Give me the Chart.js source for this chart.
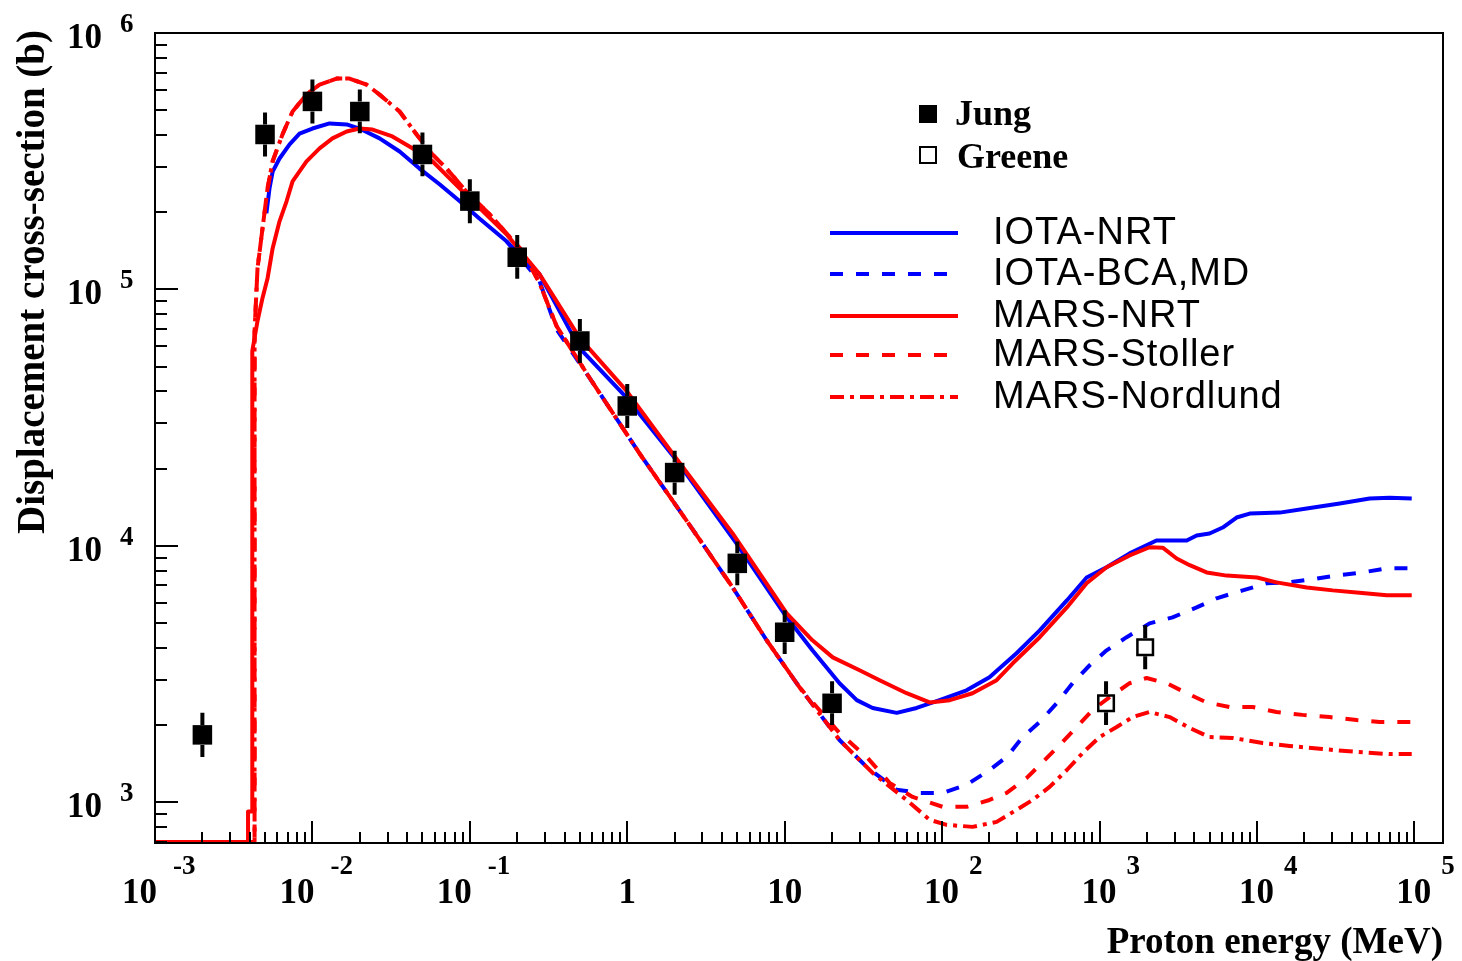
<!DOCTYPE html>
<html>
<head>
<meta charset="utf-8">
<title>Displacement cross-section vs proton energy</title>
<script src="https://cdn.jsdelivr.net/npm/chart.js@4.4.1/dist/chart.umd.min.js"></script>
<style>
  html, body { margin: 0; padding: 0; background: #fff; }
  #wrap { width: 1462px; height: 961px; }
</style>
</head>
<body>
<div id="wrap"><canvas id="sigma" width="1462" height="961"></canvas></div>
<script>
// Jung measurements (filled squares): energy (MeV), cross-section (b), error limits
const jungE    = [0.002, 0.005, 0.01, 0.02, 0.05, 0.1, 0.2, 0.5, 1, 2, 5, 10, 20];
const jungS    = [1830, 4.02e5, 5.41e5, 4.94e5, 3.36e5, 2.21e5, 1.335e5, 6.29e4, 3.51e4, 1.93e4, 8.54e3, 4.6e3, 2.43e3];
const jungLow  = [1500, 3.30e5, 4.44e5, 4.06e5, 2.76e5, 1.81e5, 1.10e5, 5.16e4, 2.88e4, 1.58e4, 7.01e3, 3.78e3, 2.0e3];
const jungHigh = [2230, 4.90e5, 6.59e5, 6.02e5, 4.09e5, 2.69e5, 1.63e5, 7.66e4, 4.28e4, 2.35e4, 1.04e4, 5.6e3, 2.96e3];

// Greene measurements (open squares)
const greeneE    = [1100, 1950];
const greeneS    = [2430, 4020];
const greeneLow  = [2000, 3300];
const greeneHigh = [2960, 4900];

// IOTA-NRT
const iotaNrtE = [5.1e-3, 5.34e-3, 5.59e-3, 6.18e-3, 7.16e-3, 8.28e-3, 0.01, 0.01285, 0.0165, 0.0199, 0.0267, 0.0358,
  0.0479, 0.0642, 0.086, 0.115, 0.171, 0.277, 0.498, 0.99, 2.06, 4.95, 10.3, 15.0, 22.3, 28.7, 36.2, 51.5, 68.9, 96.3,
  143, 200, 297, 417, 620, 828, 1109, 1553, 2300, 3580, 4140, 5000, 6060, 7420, 8990, 1.394e4, 2.07e4, 3.36e4, 5.2e4,
  6.97e4, 9.62e4];
const iotaNrtS = [1.98e5, 2.48e5, 2.88e5, 3.24e5, 3.68e5, 4.05e5, 4.24e5, 4.44e5, 4.40e5, 4.24e5, 3.88e5, 3.45e5,
  2.96e5, 2.57e5, 2.21e5, 1.89e5, 1.54e5, 1.147e5, 5.9e4, 3.78e4, 2.15e4, 1.02e4, 5.26e3, 3.91e3, 2.91e3, 2.50e3,
  2.33e3, 2.23e3, 2.33e3, 2.50e3, 2.73e3, 3.07e3, 3.81e3, 4.68e3, 6.12e3, 7.52e3, 8.25e3, 9.34e3, 1.048e4, 1.048e4,
  1.097e4, 1.117e4, 1.178e4, 1.289e4, 1.335e4, 1.347e4, 1.397e4, 1.461e4, 1.53e4, 1.54e4, 1.53e4];

// IOTA-BCA,MD
const iotaBcaE = [0.171, 0.277, 0.355, 0.576, 1.197, 2.38, 4.67, 7.68, 12.4, 22.3, 33.2, 51.5, 72.0, 100.7, 143, 200,
  257, 325, 417, 534, 674, 866, 1109, 1487, 2080, 2910, 4140, 5540, 8120, 1.152e4, 1.613e4, 2.394e4, 3.21e4, 4.69e4,
  6.67e4, 9.62e4];
const iotaBcaS = [1.54e5, 1.077e5, 7.0e4, 4.52e4, 2.29e4, 1.254e4, 6.88e3, 4.28e3, 2.81e3, 1.747e3, 1.372e3, 1.117e3,
  1.087e3, 1.087e3, 1.168e3, 1.335e3, 1.50e3, 1.795e3, 2.054e3, 2.43e3, 2.91e3, 3.42e3, 3.91e3, 4.40e3, 4.98e3, 5.26e3,
  5.75e3, 6.24e3, 6.70e3, 7.14e3, 7.21e3, 7.45e3, 7.65e3, 7.87e3, 8.17e3, 8.17e3];

// MARS-NRT
const marsNrtE = [1e-3, 3.9e-3, 3.9e-3, 4.15e-3, 4.15e-3, 4.48e-3, 4.82e-3, 5.19e-3, 5.59e-3, 6.18e-3, 6.85e-3, 7.48e-3,
  9.17e-3, 0.0111, 0.0134, 0.0165, 0.0199, 0.0241, 0.0322, 0.0432, 0.0579, 0.0777, 0.104, 0.171, 0.277, 0.498, 0.99,
  1.94, 4.67, 10.3, 15.0, 20.2, 29.9, 40.1, 59.5, 83.4, 112, 156, 222, 281, 417, 620, 828, 1109, 1553, 2080, 2520, 3090,
  3740, 4790, 6420, 1.0e4, 1.33e4, 2.07e4, 3.03e4, 4.30e4, 6.67e4, 9.62e4];
const marsNrtS = [700, 700, 920, 920, 5.75e4, 7.53e4, 9.26e4, 1.106e5, 1.448e5, 1.843e5, 2.206e5, 2.639e5, 3.157e5,
  3.55e5, 3.88e5, 4.13e5, 4.24e5, 4.20e5, 3.95e5, 3.55e5, 3.16e5, 2.64e5, 2.21e5, 1.64e5, 1.147e5, 6.47e4, 4.02e4,
  2.29e4, 1.117e4, 5.45e3, 4.28e3, 3.67e3, 3.27e3, 2.99e3, 2.66e3, 2.45e3, 2.50e3, 2.66e3, 2.99e3, 3.48e3, 4.40e3,
  5.75e3, 7.14e3, 8.25e3, 9.17e3, 9.87e3, 9.83e3, 8.92e3, 8.40e3, 7.87e3, 7.65e3, 7.52e3, 7.20e3, 6.88e3, 6.70e3,
  6.58e3, 6.41e3, 6.41e3];

// MARS-Stoller
const marsStollerE = [1e-3, 4.29e-3, 4.29e-3, 4.48e-3, 4.82e-3, 5.19e-3, 5.59e-3, 6.45e-3, 7.48e-3, 9.17e-3, 0.0111,
  0.01423, 0.0172, 0.0221, 0.0267, 0.0358, 0.0459, 0.0579, 0.0711, 0.095, 0.1334, 0.216, 0.277, 0.355, 0.576, 1.197,
  2.38, 4.67, 7.68, 12.4, 22.3, 33.2, 46.4, 65.0, 100.7, 143, 200, 257, 345, 436, 558, 716, 906, 1159, 1553, 1990, 2670,
  3580, 4790, 6700, 9400, 1.33e4, 1.95e4, 2.9e4, 4.30e4, 6.03e4, 9.62e4];
const marsStollerS = [700, 700, 6.88e4, 1.21e5, 1.73e5, 2.48e5, 3.16e5, 4.02e5, 4.94e5, 5.75e5, 6.29e5, 6.64e5, 6.64e5,
  6.29e5, 5.75e5, 4.94e5, 4.02e5, 3.36e5, 2.96e5, 2.41e5, 1.963e5, 1.41e5, 1.058e5, 7.21e4, 4.52e4, 2.29e4, 1.254e4,
  6.88e3, 4.28e3, 2.81e3, 1.86e3, 1.50e3, 1.189e3, 1.048e3, 959, 959, 1.02e3, 1.087e3, 1.243e3, 1.435e3, 1.671e3,
  1.963e3, 2.29e3, 2.57e3, 2.91e3, 3.05e3, 2.91e3, 2.66e3, 2.45e3, 2.35e3, 2.35e3, 2.247e3, 2.19e3, 2.147e3, 2.09e3,
  2.054e3, 2.054e3];

// MARS-Nordlund
const marsNordlundE = [1e-3, 4.29e-3, 4.29e-3, 4.48e-3, 4.82e-3, 5.19e-3, 5.59e-3, 6.45e-3, 7.48e-3, 9.17e-3, 0.0111,
  0.01423, 0.0172, 0.0221, 0.0267, 0.0358, 0.0459, 0.0579, 0.0711, 0.095, 0.1334, 0.216, 0.277, 0.355, 0.576, 1.197,
  2.38, 4.67, 7.68, 12.4, 22.3, 36.2, 59.5, 83.4, 106.8, 156, 222, 297, 376, 482, 620, 781, 1000, 1285, 1623, 2080,
  2790, 3740, 5000, 7000, 1.087e4, 1.613e4, 2.61e4, 4.30e4, 6.97e4, 9.62e4];
const marsNordlundS = [700, 700, 6.88e4, 1.21e5, 1.73e5, 2.48e5, 3.16e5, 4.02e5, 4.94e5, 5.75e5, 6.29e5, 6.64e5, 6.64e5,
  6.29e5, 5.75e5, 4.94e5, 4.02e5, 3.36e5, 2.96e5, 2.41e5, 1.963e5, 1.41e5, 1.058e5, 7.21e4, 4.52e4, 2.29e4, 1.254e4,
  6.88e3, 4.28e3, 2.81e3, 1.747e3, 1.30e3, 1.02e3, 853, 816, 801, 838, 933, 1.02e3, 1.147e3, 1.335e3, 1.555e3,
  1.795e3, 1.963e3, 2.147e3, 2.247e3, 2.147e3, 1.946e3, 1.795e3, 1.78e3, 1.70e3, 1.656e3, 1.612e3, 1.57e3, 1.54e3,
  1.54e3];

// decade labels on the axes (powers of ten)
const xTickExps = [-3, -2, -1, 0, 1, 2, 3, 4, 5];
const yTickExps = [3, 4, 5, 6];

const BLUE = '#0000ff';
const RED = '#ff0000';
const SERIF = '"Liberation Serif", "Times New Roman", serif';
const SANS = '"Liberation Sans", Arial, Helvetica, sans-serif';

const pts = (E, S) => E.map((e, i) => ({ x: e, y: S[i] }));

function line(label, E, S, color, dash) {
  return {
    label: label,
    data: pts(E, S),
    showLine: true,
    borderColor: color,
    borderWidth: 4,
    borderDash: dash,
    borderCapStyle: 'butt',
    borderJoinStyle: 'round',
    pointRadius: 0,
    fill: false,
    tension: 0
  };
}

const datasets = [
  { label: 'Jung', data: pts(jungE, jungS), pointStyle: 'rect', pointRadius: 13.8,
    pointBackgroundColor: '#000', pointBorderWidth: 0 },
  { label: 'Greene', data: pts(greeneE, greeneS), pointStyle: 'rect', pointRadius: 11,
    pointBackgroundColor: 'rgba(0,0,0,0)', pointBorderColor: '#000', pointBorderWidth: 2.5 },
  line('MARS-NRT', marsNrtE, marsNrtS, RED, []),
  line('MARS-Stoller', marsStollerE, marsStollerS, RED, [13, 13]),
  line('MARS-Nordlund', marsNordlundE, marsNordlundS, RED, [14, 6, 4, 6]),
  line('IOTA-NRT', iotaNrtE, iotaNrtS, BLUE, []),
  line('IOTA-BCA,MD', iotaBcaE, iotaBcaS, BLUE, [13, 13])
];

const legendLines = ['IOTA-NRT', 'IOTA-BCA,MD', 'MARS-NRT', 'MARS-Stoller', 'MARS-Nordlund'];
const legendRows = [233, 274, 316, 355, 397];

// frame, inward ticks, power-of-ten labels, error bars, titles and legend
const decorations = {
  id: 'decorations',
  afterDatasetsDraw(chart) {
    const { ctx, chartArea: a } = chart;
    const xs = chart.scales.x, ys = chart.scales.y;
    ctx.save();
    ctx.setLineDash([]);
    ctx.strokeStyle = '#000';
    ctx.fillStyle = '#000';

    // vertical error bars, kept off the marker itself
    [[0, jungLow, jungHigh, 10], [1, greeneLow, greeneHigh, 9]].forEach(([idx, low, high, half]) => {
      ctx.lineWidth = 4;
      chart.getDatasetMeta(idx).data.forEach((p, i) => {
        ctx.beginPath();
        ctx.moveTo(p.x, ys.getPixelForValue(high[i]));
        ctx.lineTo(p.x, p.y - half);
        ctx.moveTo(p.x, p.y + half);
        ctx.lineTo(p.x, ys.getPixelForValue(low[i]));
        ctx.stroke();
      });
    });

    // frame
    ctx.lineWidth = 2;
    ctx.strokeRect(a.left, a.top, a.right - a.left, a.bottom - a.top);

    // ticks on the bottom and left axes, pointing into the plot
    ctx.beginPath();
    for (let n = -3; n <= 5; n++) {
      for (let m = 1; m <= 9; m++) {
        const v = m * Math.pow(10, n);
        if (v < xs.min || v > xs.max) continue;
        const px = Math.round(xs.getPixelForValue(v));
        ctx.moveTo(px, a.bottom);
        ctx.lineTo(px, a.bottom - (m === 1 ? 22 : 11));
      }
    }
    for (let n = 2; n <= 6; n++) {
      for (let m = 1; m <= 9; m++) {
        const v = m * Math.pow(10, n);
        if (v < ys.min || v > ys.max) continue;
        const py = Math.round(ys.getPixelForValue(v));
        ctx.moveTo(a.left, py);
        ctx.lineTo(a.left + (m === 1 ? 23 : 12), py);
      }
    }
    ctx.stroke();

    const baseFont = 'bold 35px ' + SERIF;
    const expFont = 'bold 27px ' + SERIF;
    ctx.textBaseline = 'alphabetic';

    // x labels
    xTickExps.forEach(e => {
      const px = xs.getPixelForValue(Math.pow(10, e));
      ctx.font = baseFont;
      if (e === 0 || e === 1) {
        ctx.textAlign = 'center';
        ctx.fillText(e === 0 ? '1' : '10', px, a.bottom + 60);
        return;
      }
      ctx.textAlign = 'right';
      ctx.fillText('10', px + (e < 0 ? 2 : 17), a.bottom + 60);
      ctx.font = expFont;
      ctx.textAlign = 'left';
      ctx.fillText(String(e), px + (e < 0 ? 18 : 27), a.bottom + 31);
    });

    // y labels
    yTickExps.forEach(e => {
      const py = ys.getPixelForValue(Math.pow(10, e));
      ctx.font = baseFont;
      ctx.textAlign = 'right';
      ctx.fillText('10', a.left - 53, py + 15);
      ctx.font = expFont;
      ctx.textAlign = 'left';
      ctx.fillText(String(e), a.left - 35, py - 1);
    });

    // axis titles
    ctx.font = 'bold 37px ' + SERIF;
    ctx.textAlign = 'right';
    ctx.fillText('Proton energy (MeV)', a.right, a.bottom + 110);

    ctx.save();
    ctx.translate(44, 30);
    ctx.rotate(-Math.PI / 2);
    ctx.font = 'bold 39px ' + SERIF;
    ctx.textAlign = 'right';
    ctx.fillText('Displacement cross-section (b)', 0, 0);
    ctx.restore();

    // legend: data markers
    ctx.fillRect(919, 105, 18, 18);
    ctx.lineWidth = 2;
    ctx.strokeRect(920, 147, 16, 16);
    ctx.font = 'bold 36px ' + SERIF;
    ctx.textAlign = 'left';
    ctx.fillText('Jung', 955, 125);
    ctx.fillText('Greene', 957, 168);

    // legend: calculations
    legendLines.forEach((name, k) => {
      const ds = chart.data.datasets.find(d => d.label === name);
      const y = legendRows[k];
      ctx.strokeStyle = ds.borderColor;
      ctx.lineWidth = ds.borderWidth;
      ctx.lineCap = 'butt';
      ctx.setLineDash(ds.borderDash);
      ctx.beginPath();
      ctx.moveTo(830, y);
      ctx.lineTo(958, y);
      ctx.stroke();
      ctx.setLineDash([]);
      ctx.fillStyle = '#000';
      ctx.font = '38px ' + SANS;
      ctx.letterSpacing = '1px';
      ctx.fillText(name, 993, y + 11);
      ctx.letterSpacing = '0px';
    });

    ctx.restore();
  }
};

new Chart(document.getElementById('sigma').getContext('2d'), {
  type: 'scatter',
  data: { datasets: datasets },
  options: {
    responsive: false,
    animation: false,
    devicePixelRatio: 1,
    events: [],
    layout: { padding: { left: 155, top: 33, right: 19, bottom: 118 } },
    scales: {
      x: { type: 'logarithmic', min: 1e-3, max: 1.52e5, display: false },
      y: { type: 'logarithmic', min: 693, max: 1e6, display: false }
    },
    plugins: { legend: { display: false }, tooltip: { enabled: false } }
  },
  plugins: [decorations]
});
</script>
</body>
</html>
